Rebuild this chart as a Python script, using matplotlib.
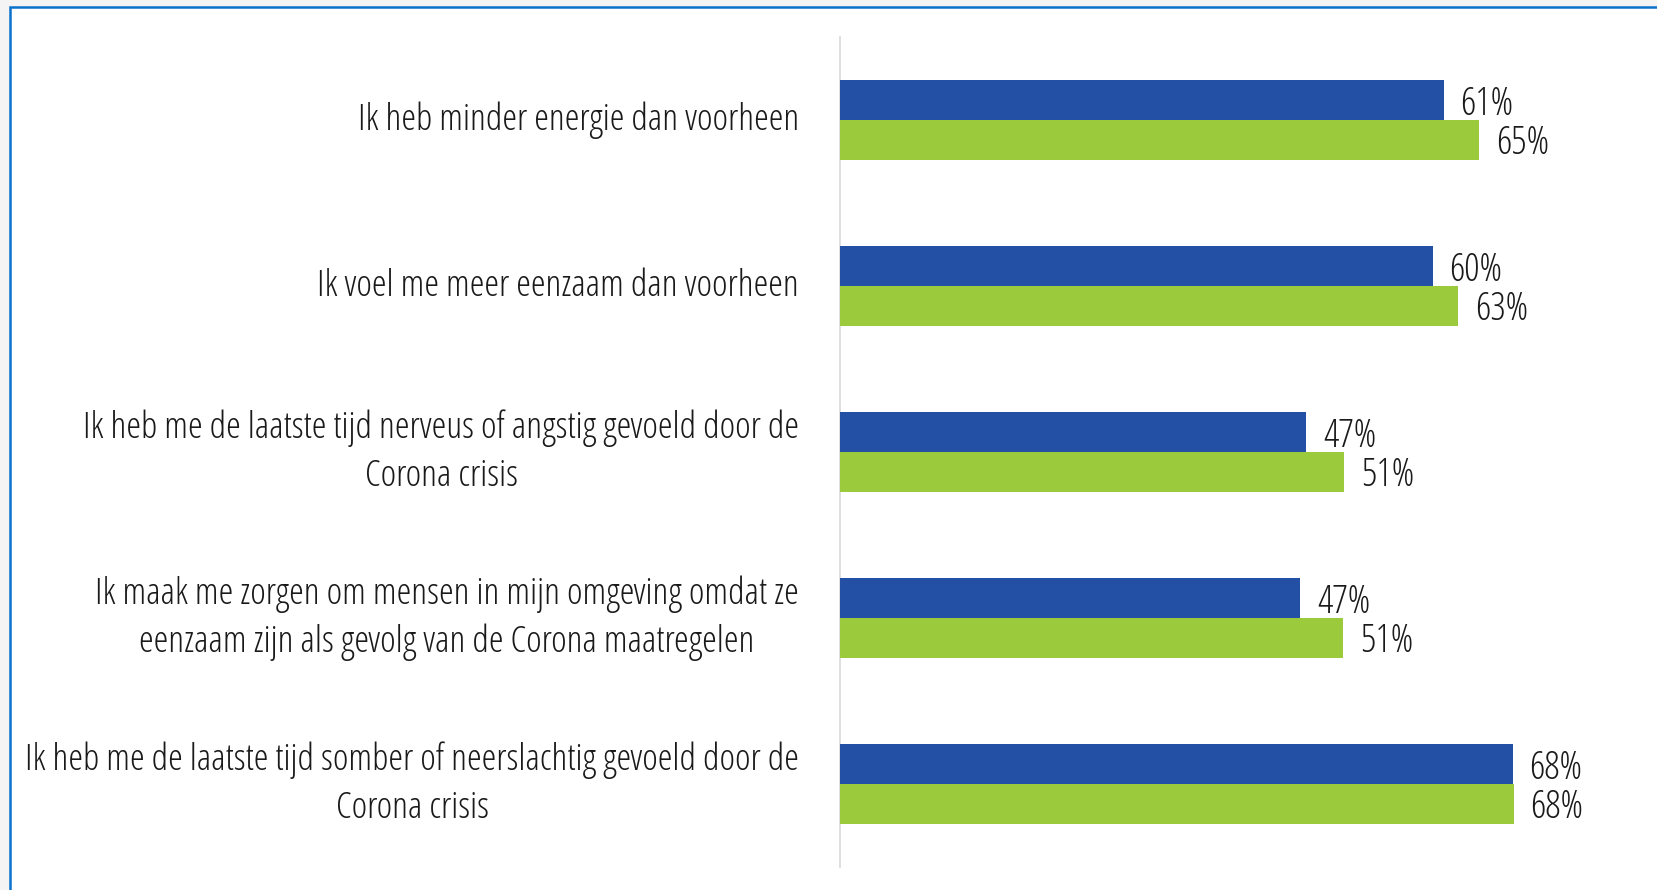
import matplotlib
matplotlib.use("Agg")
from matplotlib import pyplot as plt
from matplotlib import font_manager
from matplotlib.patches import Rectangle

# Data
statements = [
    "Ik heb minder energie dan voorheen",
    "Ik voel me meer eenzaam dan voorheen",
    "Ik heb me de laatste tijd nerveus of angstig gevoeld door de\nCorona crisis",
    "Ik maak me zorgen om mensen in mijn omgeving omdat ze\neenzaam zijn als gevolg van de Corona maatregelen",
    "Ik heb me de laatste tijd somber of neerslachtig gevoeld door de\nCorona crisis",
]
blue_values = [61.1, 60.0, 47.2, 46.6, 68.1]
green_values = [64.7, 62.6, 51.0, 50.9, 68.2]

blue = "#2350a4"
green = "#9bca3c"

# pick a narrow font if there is one
fonts = font_manager.fontManager.ttflist
condensed = [f for f in fonts if f.name == "Open Sans" and "condensed" in str(f.stretch)]
if condensed:
    font = dict(family="Open Sans", stretch="condensed", weight="light")
elif any(f.name == "Liberation Sans Narrow" for f in fonts):
    font = dict(family="Liberation Sans Narrow")
else:
    font = dict(family="Open Sans", weight="light")

W, H = 1657, 890
fig = plt.figure(figsize=(W / 100, H / 100), dpi=100, facecolor="#f4f4f4")

# white panel with blue border on left and top
panel = Rectangle((10 / W, -0.05), 1.1, (H - 6.5) / H + 0.05,
                  transform=fig.transFigure, facecolor="white",
                  edgecolor="#0a72cc", linewidth=1.8, zorder=-5)
fig.add_artist(panel)

ax = fig.add_axes([840 / W, 23 / H, 1 - 840 / W, 830 / H])
ax.set_zorder(2)
ax.patch.set_alpha(0)

pos = list(range(len(statements)))
bh = 0.239
ax.barh([p - bh / 2 for p in pos], blue_values, height=bh, color=blue)
ax.barh([p + bh / 2 for p in pos], green_values, height=bh, color=green)

# value labels (small nudge down so the digits sit centred on the bar)
nudge = 0.025
for p, v in zip(pos, blue_values):
    ax.text(v + 1.7, p - bh / 2 + nudge, f"{v:.0f}%", va="center", ha="left",
            fontsize=27.5, color="#1a1a1a", **font)
for p, v in zip(pos, green_values):
    ax.text(v + 1.7, p + bh / 2 + nudge, f"{v:.0f}%", va="center", ha="left",
            fontsize=27.5, color="#1a1a1a", **font)

ax.set_xlim(0, (W - 840) / 9.88)
ax.set_ylim(4.5, -0.5)
ax.set_yticks(pos)
ax.set_yticklabels(statements, fontsize=26.9, color="#1a1a1a", multialignment="center",
                   linespacing=1.38, **font)
for lbl in ax.get_yticklabels():
    lbl.set_verticalalignment("center")
ax.tick_params(axis="y", length=0, pad=29.5)
ax.set_xticks([])
for s in ["top", "right", "bottom"]:
    ax.spines[s].set_visible(False)
ax.spines["left"].set_color("#d9d9d9")
ax.spines["left"].set_linewidth(1.2)
ax.spines["left"].set_zorder(0.5)

fig.savefig("out.png", dpi=100, facecolor=fig.get_facecolor())
